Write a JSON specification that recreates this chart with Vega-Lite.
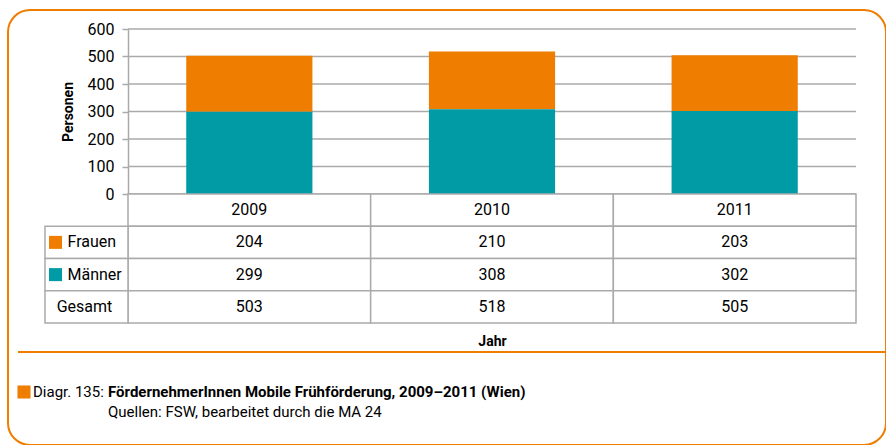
{
  "$schema": "https://vega.github.io/schema/vega-lite/v6.json",
  "width": 878,
  "height": 435,
  "autosize": {"type": "none"},
  "padding": {"left": 8, "top": 10, "right": 0, "bottom": 0},
  "background": "white",
  "view": {"stroke": "#ef7d00", "strokeWidth": 2, "cornerRadius": 22, "fill": "white"},
  "config": {
    "font": "Roboto, Liberation Sans, sans-serif",
    "text": {"font": "Roboto, Liberation Sans, sans-serif"}
  },
  "datasets": {
    "grid": [{"v": 0}, {"v": 100}, {"v": 200}, {"v": 300}, {"v": 400}, {"v": 500}, {"v": 600}],
    "bars": [
      {"year": "2009", "gender": "Frauen", "value": 204},
      {"year": "2009", "gender": "Männer", "value": 299},
      {"year": "2010", "gender": "Frauen", "value": 210},
      {"year": "2010", "gender": "Männer", "value": 308},
      {"year": "2011", "gender": "Frauen", "value": 203},
      {"year": "2011", "gender": "Männer", "value": 302}
    ],
    "table": [
      {"year": "2009", "row": "Jahr", "label": "2009"},
      {"year": "2010", "row": "Jahr", "label": "2010"},
      {"year": "2011", "row": "Jahr", "label": "2011"},
      {"year": "2009", "row": "Frauen", "label": "204"},
      {"year": "2010", "row": "Frauen", "label": "210"},
      {"year": "2011", "row": "Frauen", "label": "203"},
      {"year": "2009", "row": "Männer", "label": "299"},
      {"year": "2010", "row": "Männer", "label": "308"},
      {"year": "2011", "row": "Männer", "label": "302"},
      {"year": "2009", "row": "Gesamt", "label": "503"},
      {"year": "2010", "row": "Gesamt", "label": "518"},
      {"year": "2011", "row": "Gesamt", "label": "505"}
    ],
    "legend": [
      {"row": "Frauen", "label": "Frauen"},
      {"row": "Männer", "label": "Männer"},
      {"row": "Gesamt", "label": "Gesamt"}
    ],
    "caption": [
      {"part": "sw", "line": "l1", "text": ""},
      {"part": "pre", "line": "l1", "text": "Diagr. 135:"},
      {"part": "title", "line": "l1", "text": "FördernehmerInnen Mobile Frühförderung, 2009–2011 (Wien)"},
      {"part": "source", "line": "l2", "text": "Quellen: FSW, bearbeitet durch die MA 24"}
    ]
  },
  "resolve": {
    "scale": {"x": "independent", "y": "independent"},
    "axis": {"x": "independent", "y": "independent"}
  },
  "layer": [
    {
      "data": {"name": "grid"},
      "mark": {"type": "rule", "color": "#aaaaaa", "strokeWidth": 1.5},
      "encoding": {
        "y": {
          "field": "v", "type": "quantitative",
          "scale": {"domain": [0, 600], "range": [184, 19], "nice": false},
          "axis": {
            "title": "Personen", "orient": "left", "offset": -120,
            "values": [0, 100, 200, 300, 400, 500, 600], "grid": false,
            "domainColor": "#aaaaaa", "domainWidth": 1.5,
            "tickColor": "#aaaaaa", "tickWidth": 1.5, "tickSize": 6,
            "labelFontSize": 16, "labelColor": "#000", "labelPadding": 8,
            "titleFontSize": 14, "titleFontWeight": "bold", "titleColor": "#000", "titlePadding": 12
          }
        },
        "x": {"datum": 0, "type": "quantitative", "scale": {"domain": [0, 1], "range": [120, 848]}, "axis": null},
        "x2": {"datum": 1}
      }
    },
    {
      "data": {"name": "bars"},
      "mark": {"type": "bar"},
      "encoding": {
        "x": {"field": "year", "type": "nominal", "scale": {"range": [120, 848], "paddingInner": 0.48, "paddingOuter": 0.24}, "axis": null},
        "y": {"field": "value", "type": "quantitative", "stack": "zero", "scale": {"domain": [0, 600], "range": [184, 19], "nice": false}, "axis": null},
        "color": {"field": "gender", "type": "nominal", "scale": {"domain": ["Frauen", "Männer"], "range": ["#ef7d00", "#009ba5"]}, "legend": null},
        "order": {"field": "gender", "sort": "descending"}
      }
    },
    {
      "data": {"name": "table"},
      "encoding": {
        "x": {
          "field": "year", "type": "nominal",
          "scale": {"range": [120, 848], "paddingInner": 0, "paddingOuter": 0},
          "axis": {"title": "Jahr", "orient": "bottom", "labels": false, "ticks": false, "domain": false, "offset": -122,
                   "titleFontSize": 14, "titleFontWeight": "bold", "titleColor": "#000", "titlePadding": 11}
        },
        "y": {"field": "row", "type": "nominal", "scale": {"domain": ["Jahr", "Frauen", "Männer", "Gesamt"], "range": [184, 313], "paddingInner": 0, "paddingOuter": 0}, "axis": null}
      },
      "layer": [
        {"mark": {"type": "rect", "fill": "white", "stroke": "#aaaaaa", "strokeWidth": 1.5}},
        {"mark": {"type": "text", "fontSize": 16, "color": "#000"}, "encoding": {"text": {"field": "label"}}}
      ]
    },
    {
      "data": {"name": "legend"},
      "encoding": {
        "x": {"datum": "lab", "type": "nominal", "scale": {"domain": ["lab"], "range": [37, 120], "paddingInner": 0, "paddingOuter": 0}, "axis": null},
        "y": {"field": "row", "type": "nominal", "scale": {"domain": ["Jahr", "Frauen", "Männer", "Gesamt"], "range": [184, 313], "paddingInner": 0, "paddingOuter": 0}, "axis": null}
      },
      "layer": [
        {"mark": {"type": "rect", "fill": "white", "stroke": "#aaaaaa", "strokeWidth": 1.5}},
        {
          "transform": [{"filter": "datum.row !== 'Gesamt'"}],
          "mark": {"type": "point", "shape": "square", "filled": true, "size": 170, "xOffset": -31, "opacity": 1},
          "encoding": {"color": {"field": "row", "type": "nominal", "legend": null}}
        },
        {
          "transform": [{"filter": "datum.row !== 'Gesamt'"}],
          "mark": {"type": "text", "align": "left", "dx": -19, "fontSize": 16, "color": "#000"},
          "encoding": {"text": {"field": "label"}}
        },
        {
          "transform": [{"filter": "datum.row === 'Gesamt'"}],
          "mark": {"type": "text", "align": "center", "dx": -2, "fontSize": 16, "color": "#000"},
          "encoding": {"text": {"field": "label"}}
        }
      ]
    },
    {
      "data": {"values": [{"item": "separator"}]},
      "mark": {"type": "rule", "color": "#ef7d00", "strokeWidth": 2},
      "encoding": {
        "x": {"datum": 0, "type": "quantitative", "scale": {"domain": [0, 1], "range": [10, 878]}, "axis": null},
        "x2": {"datum": 1},
        "y": {"datum": 0, "type": "quantitative", "scale": {"domain": [0, 1], "range": [342, 0]}, "axis": null}
      }
    },
    {
      "data": {"name": "caption"},
      "encoding": {
        "x": {"datum": 0, "type": "quantitative", "scale": {"domain": [0, 1], "range": [16, 878]}, "axis": null},
        "y": {"field": "line", "type": "nominal", "scale": {"type": "point", "domain": ["l1", "l2"], "range": [382, 402], "padding": 0}, "axis": null}
      },
      "layer": [
        {
          "transform": [{"filter": "datum.part === 'sw'"}],
          "mark": {"type": "point", "shape": "square", "filled": true, "size": 170, "color": "#ef7d00", "opacity": 1}
        },
        {
          "transform": [{"filter": "datum.part === 'pre'"}],
          "mark": {"type": "text", "align": "left", "dx": 9, "fontSize": 15, "color": "#000"},
          "encoding": {"text": {"field": "text"}}
        },
        {
          "transform": [{"filter": "datum.part === 'title'"}],
          "mark": {"type": "text", "align": "left", "dx": 84, "fontSize": 15, "fontWeight": "bold", "color": "#000"},
          "encoding": {"text": {"field": "text"}}
        },
        {
          "transform": [{"filter": "datum.part === 'source'"}],
          "mark": {"type": "text", "align": "left", "dx": 84, "fontSize": 15, "color": "#000"},
          "encoding": {"text": {"field": "text"}}
        }
      ]
    }
  ]
}
